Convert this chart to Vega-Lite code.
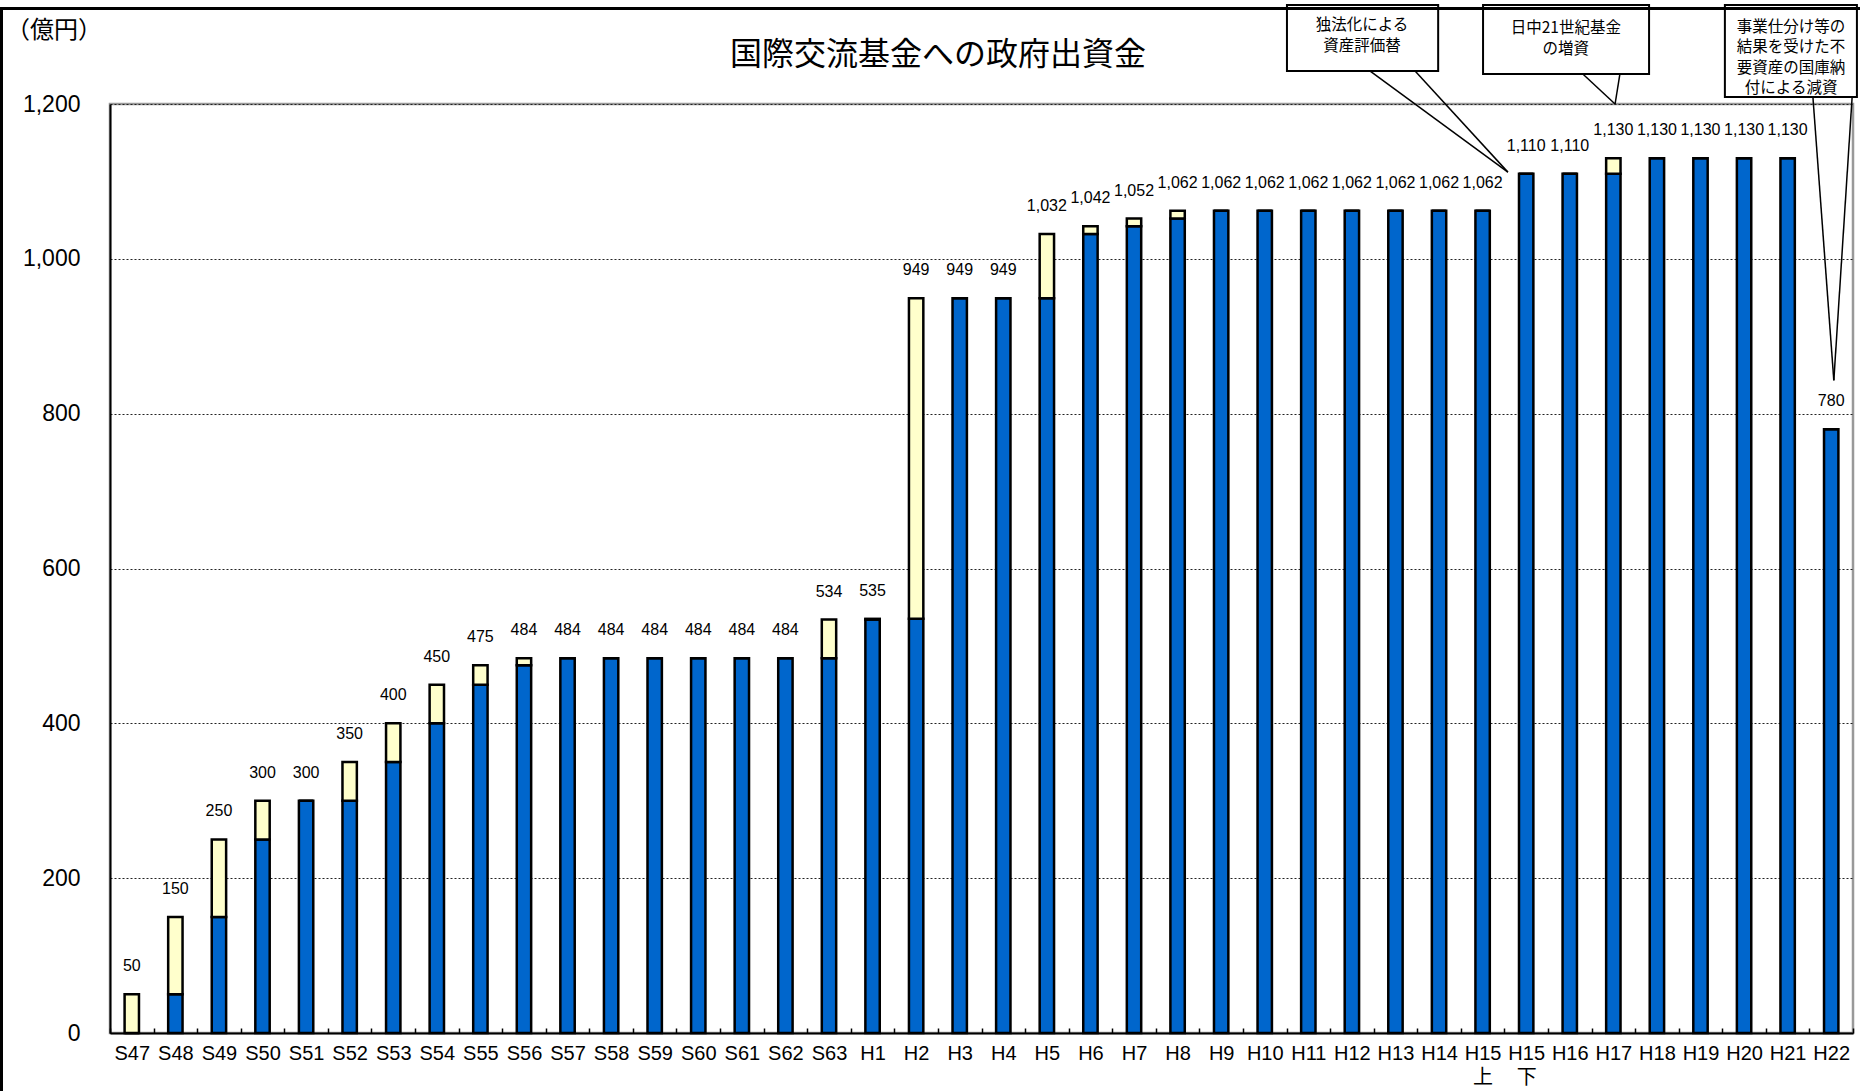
{
  "$schema": "https://vega.github.io/schema/vega-lite/v6.json",
  "width": 1743,
  "height": 929,
  "autosize": {"type": "none"},
  "padding": {"left": 110, "top": 104, "right": 7, "bottom": 58},
  "background": "white",
  "config": {
    "view": {"stroke": "#999999", "strokeWidth": 2.5},
    "font": "Liberation Sans"
  },
  "datasets": {
    "funds": [
      {"cat": "S47", "base": 0, "total": 50},
      {"cat": "S48", "base": 50, "total": 150},
      {"cat": "S49", "base": 150, "total": 250},
      {"cat": "S50", "base": 250, "total": 300},
      {"cat": "S51", "base": 300, "total": 300},
      {"cat": "S52", "base": 300, "total": 350},
      {"cat": "S53", "base": 350, "total": 400},
      {"cat": "S54", "base": 400, "total": 450},
      {"cat": "S55", "base": 450, "total": 475},
      {"cat": "S56", "base": 475, "total": 484},
      {"cat": "S57", "base": 484, "total": 484},
      {"cat": "S58", "base": 484, "total": 484},
      {"cat": "S59", "base": 484, "total": 484},
      {"cat": "S60", "base": 484, "total": 484},
      {"cat": "S61", "base": 484, "total": 484},
      {"cat": "S62", "base": 484, "total": 484},
      {"cat": "S63", "base": 484, "total": 534},
      {"cat": "H1", "base": 534, "total": 535},
      {"cat": "H2", "base": 535, "total": 949},
      {"cat": "H3", "base": 949, "total": 949},
      {"cat": "H4", "base": 949, "total": 949},
      {"cat": "H5", "base": 949, "total": 1032},
      {"cat": "H6", "base": 1032, "total": 1042},
      {"cat": "H7", "base": 1042, "total": 1052},
      {"cat": "H8", "base": 1052, "total": 1062},
      {"cat": "H9", "base": 1062, "total": 1062},
      {"cat": "H10", "base": 1062, "total": 1062},
      {"cat": "H11", "base": 1062, "total": 1062},
      {"cat": "H12", "base": 1062, "total": 1062},
      {"cat": "H13", "base": 1062, "total": 1062},
      {"cat": "H14", "base": 1062, "total": 1062},
      {"cat": "H15上", "base": 1062, "total": 1062},
      {"cat": "H15下", "base": 1110, "total": 1110},
      {"cat": "H16", "base": 1110, "total": 1110},
      {"cat": "H17", "base": 1110, "total": 1130},
      {"cat": "H18", "base": 1130, "total": 1130},
      {"cat": "H19", "base": 1130, "total": 1130},
      {"cat": "H20", "base": 1130, "total": 1130},
      {"cat": "H21", "base": 1130, "total": 1130},
      {"cat": "H22", "base": 780, "total": 780}
    ],
    "notes": [
      {"note": "独法化による\n資産評価替", "tx": 28.73, "ty": 1302, "bx0": 27.01, "bx1": 30.48, "by0": 1328, "by1": 1242.6},
      {"note": "日中21世紀基金\nの増資", "tx": 33.41, "ty": 1298, "bx0": 31.51, "bx1": 35.32, "by0": 1328, "by1": 1238.7},
      {"note": "事業仕分け等の\n結果を受けた不\n要資産の国庫納\n付による減資", "tx": 38.58, "ty": 1300, "bx0": 37.06, "bx1": 40.09, "by0": 1328, "by1": 1209}
    ],
    "pointers": [
      {"fx": 28.92, "fy": 1242.6, "tipx": 32.08, "tipy": 1112},
      {"fx": 29.95, "fy": 1242.6, "tipx": 32.08, "tipy": 1112},
      {"fx": 33.8, "fy": 1238.7, "tipx": 34.54, "tipy": 1200},
      {"fx": 34.65, "fy": 1238.7, "tipx": 34.54, "tipy": 1200},
      {"fx": 39.08, "fy": 1209, "tipx": 39.56, "tipy": 843},
      {"fx": 39.98, "fy": 1209, "tipx": 39.56, "tipy": 843}
    ]
  },
  "layer": [
    {
      "data": {"name": "funds"},
      "encoding": {
        "x": {
          "field": "cat",
          "type": "nominal",
          "sort": null,
          "scale": {"paddingInner": 0, "paddingOuter": 0},
          "axis": {
            "title": null,
            "labelAngle": 0,
            "labelFont": "Liberation Sans Narrow, Liberation Sans, Noto Sans CJK JP",
            "labelFontSize": 20,
            "labelColor": "black",
            "labelPadding": 15,
            "labelLineHeight": 24,
            "labelBaseline": "top",
            "tickBand": "extent",
            "tickSize": -5,
            "tickColor": "black",
            "tickWidth": 1.5,
            "domainColor": "black",
            "domainWidth": 2,
            "grid": false,
            "labelExpr": "datum.value == 'H15上' ? ['H15', '上'] : datum.value == 'H15下' ? ['H15', '下'] : datum.label"
          }
        },
        "y": {
          "field": "base",
          "type": "quantitative",
          "scale": {"domain": [0, 1200], "nice": false},
          "axis": {
            "title": null,
            "values": [0, 200, 400, 600, 800, 1000, 1200],
            "format": ",d",
            "labelFontSize": 23,
            "labelColor": "black",
            "labelPadding": 30,
            "ticks": false,
            "domainColor": "black",
            "domainWidth": 2,
            "gridColor": "#222222",
            "gridDash": [2, 2],
            "gridWidth": 1
          }
        }
      },
      "layer": [
        {
          "mark": {"type": "bar", "width": {"band": 0.33}, "fill": "#0066CC", "stroke": "black", "strokeWidth": 2.5}
        },
        {
          "mark": {"type": "bar", "width": {"band": 0.33}, "fill": "#FFFFCC", "stroke": "black", "strokeWidth": 2.5},
          "encoding": {
            "y2": {"field": "total"}
          }
        },
        {
          "mark": {"type": "text", "dy": -28, "baseline": "middle", "align": "center", "fontSize": 16, "font": "Liberation Sans", "color": "black"},
          "encoding": {
            "y": {"field": "total", "type": "quantitative", "scale": {"domain": [0, 1200], "nice": false}},
            "text": {"field": "total", "type": "quantitative", "format": ",d"}
          }
        }
      ]
    },
    {
      "layer": [
        {
          "data": {"name": "pointers"},
          "mark": {"type": "rule", "stroke": "black", "strokeWidth": 1.5},
          "encoding": {
            "x": {"field": "fx", "type": "quantitative", "scale": {"domain": [0, 40], "nice": false, "zero": false}, "axis": null},
            "x2": {"field": "tipx"},
            "y": {"field": "fy", "type": "quantitative", "scale": {"domain": [0, 1200], "nice": false}},
            "y2": {"field": "tipy"}
          }
        },
        {
          "data": {"name": "notes"},
          "mark": {"type": "rect", "fill": "white", "stroke": "black", "strokeWidth": 2},
          "encoding": {
            "x": {"field": "bx0", "type": "quantitative", "scale": {"domain": [0, 40], "nice": false, "zero": false}, "axis": null},
            "x2": {"field": "bx1"},
            "y": {"field": "by0", "type": "quantitative", "scale": {"domain": [0, 1200], "nice": false}},
            "y2": {"field": "by1"}
          }
        },
        {
          "data": {"name": "notes"},
          "mark": {"type": "text", "font": "Noto Sans CJK JP", "fontSize": 15.5, "lineHeight": 20.5, "lineBreak": "\n", "align": "center", "baseline": "middle", "color": "black"},
          "encoding": {
            "x": {"field": "tx", "type": "quantitative", "scale": {"domain": [0, 40], "nice": false, "zero": false}, "axis": null},
            "y": {"field": "ty", "type": "quantitative", "scale": {"domain": [0, 1200], "nice": false}},
            "text": {"field": "note"}
          }
        },
        {
          "data": {"values": [{}]},
          "mark": {"type": "rect", "fill": "transparent", "stroke": "black", "strokeWidth": 3},
          "encoding": {
            "x": {"datum": -2.49, "type": "quantitative", "scale": {"domain": [0, 40], "nice": false, "zero": false}, "axis": null},
            "x2": {"datum": 41},
            "y": {"datum": 1323.4, "type": "quantitative", "scale": {"domain": [0, 1200], "nice": false}},
            "y2": {"datum": -200}
          }
        },
        {
          "data": {"values": [{}]},
          "mark": {"type": "text", "font": "Noto Sans CJK JP", "fontSize": 32, "align": "center", "baseline": "middle", "color": "black"},
          "encoding": {
            "x": {"datum": 19.0, "type": "quantitative", "scale": {"domain": [0, 40], "nice": false, "zero": false}, "axis": null},
            "y": {"datum": 1263, "type": "quantitative", "scale": {"domain": [0, 1200], "nice": false}},
            "text": {"value": "国際交流基金への政府出資金"}
          }
        },
        {
          "data": {"values": [{}]},
          "mark": {"type": "text", "font": "Noto Sans CJK JP", "fontSize": 24, "align": "center", "baseline": "middle", "color": "black"},
          "encoding": {
            "x": {"datum": -1.285, "type": "quantitative", "scale": {"domain": [0, 40], "nice": false, "zero": false}, "axis": null},
            "y": {"datum": 1294, "type": "quantitative", "scale": {"domain": [0, 1200], "nice": false}},
            "text": {"value": "（億円）"}
          }
        }
      ]
    }
  ],
  "resolve": {"scale": {"x": "independent"}}
}
